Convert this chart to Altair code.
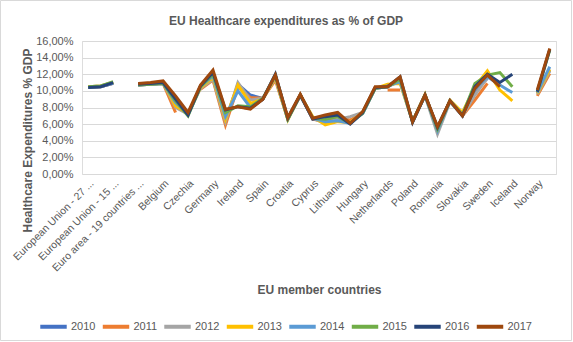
import altair as alt
import pandas as pd

categories = [
    "European Union - 27 ...", "European Union - 28 countries", "European Union - 15 ...",
    "Euro area - 18 countries", "Euro area - 19 countries ...", "Euro area - 12 countries",
    "Belgium", "Bulgaria", "Czechia", "Denmark", "Germany", "Estonia", "Ireland", "Greece",
    "Spain", "France", "Croatia", "Italy", "Cyprus", "Latvia", "Lithuania", "Luxembourg",
    "Hungary", "Malta", "Netherlands", "Austria", "Poland", "Portugal", "Romania", "Slovenia",
    "Slovakia", "Finland", "Sweden", "United Kingdom", "Iceland", "Liechtenstein", "Norway",
    "Switzerland",
]
shown_labels = categories[::2]

years = ["2010", "2011", "2012", "2013", "2014", "2015", "2016", "2017"]
colors = ["#4472C4", "#ED7D31", "#A5A5A5", "#FFC000", "#5B9BD5", "#70AD47", "#264478", "#9E480E"]

v2010 = [10.4, 10.5, 10.9, None, 10.7, 10.8, 10.9, 8.5, 7.2, 10.5, 11.6, 6.3, 10.8, 9.5, 9.1, 11.6, 6.7, 9.5, 6.6, 6.4, 6.8, 6.4, 7.3, 10.3, 10.5, 11.3, 6.3, 9.5, 5.6, 8.8, 7.0, 10.0, 11.5, None, None, None, 9.7, 12.5]
v2011 = [10.4, 10.5, 10.9, None, 10.7, 10.8, 10.9, 7.4, None, 10.2, 11.3, 5.9, 10.5, 9.2, 9.1, 11.3, 6.6, 9.5, 6.6, 6.3, 6.7, 6.5, 7.3, None, 10.1, 10.1, None, 9.5, 5.5, 8.8, 7.0, 8.9, 10.9, None, None, None, 9.4, 12.1]
v2012 = [10.5, 10.6, 11.0, None, 10.8, 10.9, 11.0, 8.0, 7.2, 10.3, 11.4, 6.3, 11.0, 8.9, 9.1, 11.5, 6.6, 9.5, 6.7, 6.1, 6.6, 6.9, 7.4, 10.3, 10.5, 11.2, 6.3, 9.4, 4.8, 8.7, 7.0, 9.5, 11.6, None, None, None, 9.6, 12.4]
v2013 = [10.5, 10.6, 11.0, None, 10.8, 10.9, 11.0, 8.2, 7.3, 10.4, 11.6, 6.6, 10.7, 8.5, 9.0, 11.6, 6.5, 9.5, 6.9, 5.9, 6.3, 6.2, 7.4, 10.3, 10.8, 10.9, 6.3, 9.6, 5.3, 8.9, 7.4, 10.5, 12.4, 10.1, 8.8, None, 9.7, 12.6]
v2014 = [10.4, 10.5, 10.9, None, 10.7, 10.8, 10.9, 8.6, 7.2, 10.5, 11.8, 6.9, 10.0, 8.0, 9.0, 11.8, 6.6, 9.5, 6.7, 6.3, 6.4, 6.1, 7.3, 10.3, 10.6, 11.1, 6.3, 9.5, 5.2, 8.8, 7.1, 10.2, 11.7, 10.7, 9.8, None, 9.8, 12.9]
v2015 = [10.5, 10.6, 11.1, None, 10.7, 10.8, 10.9, 8.8, 7.0, 10.5, 12.0, 7.4, 8.2, 8.1, 9.1, 11.9, 6.6, 9.5, 6.7, 6.6, 6.9, 6.1, 7.3, 10.3, 10.5, 11.4, 6.3, 9.5, 5.4, 8.8, 7.1, 10.9, 11.9, 12.2, 10.5, None, 9.9, 14.9]
v2016 = [10.4, 10.5, 11.0, None, 10.8, 10.9, 11.0, 9.0, 7.1, 10.6, 12.2, 7.7, 8.1, 7.9, 9.0, 12.0, 6.7, 9.5, 6.6, 6.9, 7.1, 6.0, 7.4, 10.4, 10.5, 11.7, 6.2, 9.5, 5.6, 8.8, 7.0, 10.5, 12.0, 11.0, 12.0, None, 9.9, 15.0]
v2017 = [None, None, None, None, 10.9, 11.0, 11.2, 9.4, 7.4, 10.7, 12.5, 7.8, 8.1, 7.8, 9.0, 11.9, 6.8, 9.6, 6.7, 7.1, 7.4, 6.1, 7.5, 10.5, 10.5, 11.7, 6.3, 9.5, 5.7, 8.8, 7.0, 10.3, 11.9, 10.5, None, None, 10.1, 15.1]

series = [v2010, v2011, v2012, v2013, v2014, v2015, v2016, v2017]
rows = []
for yr, vals in zip(years, series):
    for c, v in zip(categories, vals):
        rows.append({"country": c, "year": yr, "value": v})
df = pd.DataFrame(rows)

FONT = "Liberation Sans"
GREY = "#595959"

lines = alt.Chart(df).mark_line(strokeWidth=3, invalid="break-paths-show-domains").encode(
    x=alt.X("country:N", sort=categories,
            scale=alt.Scale(domain=categories, padding=0.5),
            axis=alt.Axis(values=shown_labels, labelAngle=-45, labelFontSize=10.5, labelFont=FONT,
                          labelColor=GREY, ticks=False, tickSize=0, domain=False, labelPadding=4,
                          grid=False, labelOverlap=False,
                          title="EU member countries", titleFont=FONT, titleFontSize=12,
                          titleFontWeight="bold", titleColor=GREY, titleY=115,
                          titleBaseline="middle")),
    y=alt.Y("value:Q", scale=alt.Scale(domain=[0, 16], nice=False),
            axis=alt.Axis(values=[0, 2, 4, 6, 8, 10, 12, 14, 16],
                          labelExpr="replace(format(datum.value, '.2f'), '.', ',') + '%'",
                          labelFontSize=11, labelFont=FONT, labelColor=GREY, ticks=False,
                          tickSize=0, domain=False, labelPadding=9, gridColor="#D9D9D9",
                          title="Healthcare Expenditures % GDP", titleFont=FONT,
                          titleFontSize=12, titleFontWeight="bold", titleColor=GREY,
                          titleX=-55, titleY=99, titleAngle=270, titleAlign="center",
                          titleBaseline="middle")),
    color=alt.Color("year:N", sort=years, scale=alt.Scale(domain=years, range=colors),
                    title=None,
                    legend=alt.Legend(orient="none", direction="horizontal", legendX=-44,
                                      legendY=270, symbolType="stroke", symbolSize=700,
                                      symbolStrokeWidth=4, labelFontSize=11, labelFont=FONT,
                                      labelColor=GREY, labelOffset=2, columnPadding=-1.5)),
)

frame = alt.Chart(pd.DataFrame({"k": [0]})).mark_rect(
    fillOpacity=0, stroke="#D9D9D9", strokeWidth=1
).encode(x=alt.value(-81.5), x2=alt.value(489.5), y=alt.value(-40.5), y2=alt.value(299.5))

chart = alt.layer(lines, frame).properties(
    width=474, height=133,
    title=alt.TitleParams("EU Healthcare  expenditures as % of GDP", font=FONT, fontSize=12,
                          fontWeight="bold", color=GREY, anchor="middle", frame="bounds",
                          offset=0, dy=28),
    autosize=alt.AutoSizeParams(type="none"),
    padding={"left": 82, "top": 41, "right": 17, "bottom": 168},
).configure_view(stroke=None).configure(background="white")

chart.save("out.html", embed_options={"renderer": "svg", "actions": False})
